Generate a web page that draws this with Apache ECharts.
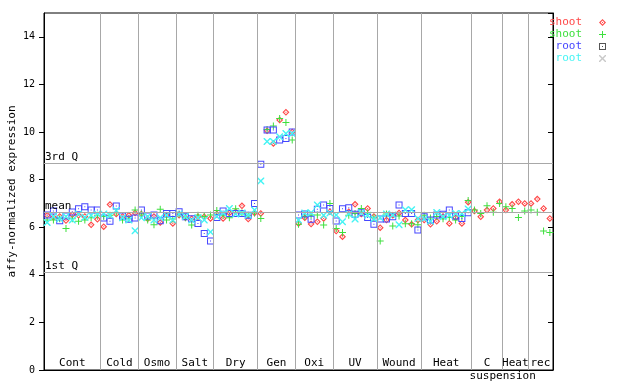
<!DOCTYPE html>
<html><head><meta charset="utf-8">
<script src="https://cdn.jsdelivr.net/npm/echarts@6/dist/echarts.min.js"></script>
<style>html,body{margin:0;padding:0;background:#fff}#c{width:640px;height:384px}</style>
</head><body><div id="c"></div>
<script>
// ---- data ----
const groupNames = ['Cont','Cold','Osmo','Salt','Dry','Gen','Oxi','UV','Wound','Heat','C','Heat','rec'];
const groupSizes = [9,6,6,6,7,6,6,7,7,8,5,4,4];
const subLabel = 'suspension';

const shootRep1 = [
  6.5,6.42,6.45,6.28,6.52,6.5,6.45,6.1,6.33,
  6.02,6.95,6.55,6.45,6.5,6.6,
  6.55,6.35,6.45,6.2,6.5,6.16,
  6.5,6.4,6.35,6.44,6.44,6.37,
  6.55,6.37,6.6,6.65,6.9,6.34,6.6,
  6.58,10.05,9.52,10.5,10.83,10.0,
  6.16,6.4,6.13,6.23,6.37,6.65,
  5.84,5.6,6.65,6.96,6.55,6.79,6.45,
  5.98,6.3,6.5,6.6,6.3,6.12,6.3,
  6.3,6.12,6.25,6.45,6.16,6.4,6.16,7.05,
  6.68,6.44,6.72,6.79,7.07,
  6.72,6.96,7.07,7.0,
  7.0,7.18,6.79,6.37
];
const shootRep2 = [
  6.3,6.3,6.35,5.95,6.35,6.25,6.3,6.4,6.5,
  6.45,6.5,6.62,6.3,6.35,6.72,
  6.55,6.3,6.1,6.75,6.3,6.34,
  6.55,6.4,6.09,6.5,6.45,6.51,
  6.7,6.5,6.4,6.77,6.6,6.5,6.6,
  6.37,10.1,10.25,10.57,10.4,9.66,
  6.12,6.45,6.5,6.51,6.09,7.0,
  5.95,5.78,6.5,6.58,6.79,6.6,6.4,
  5.42,6.55,6.05,6.47,6.14,6.14,6.1,
  6.5,6.39,6.45,6.35,6.41,6.3,6.45,7.12,
  6.72,6.58,6.9,6.63,7.0,
  6.86,6.79,6.41,6.68,
  6.72,6.63,5.84,5.78
];
const rootRep1 = [
  6.51,6.68,6.27,6.47,6.64,6.78,6.86,6.72,6.72,
  6.39,6.25,6.89,6.47,6.33,6.39,
  6.72,6.47,6.51,6.27,6.58,6.58,
  6.65,6.44,6.35,6.16,5.74,5.42,
  6.41,6.68,6.58,6.58,6.58,6.5,7.0,
  8.64,10.08,10.08,9.66,9.73,10.0,
  6.51,6.55,6.33,6.75,6.93,6.79,
  6.26,6.77,6.82,6.54,6.61,6.41,6.12,
  6.34,6.34,6.44,6.93,6.58,6.58,5.88,
  6.44,6.3,6.51,6.54,6.72,6.47,6.37,6.61
];
const rootRep2 = [
  6.2,6.45,6.35,6.45,6.3,6.55,6.42,6.5,6.55,
  6.55,6.5,6.7,6.4,6.3,5.85,
  6.4,6.45,6.3,6.4,6.5,6.3,
  6.55,6.45,6.3,6.4,6.3,5.8,
  6.45,6.6,6.79,6.55,6.6,6.5,6.72,
  7.94,9.6,9.6,9.8,9.94,9.94,
  6.3,6.6,6.61,6.93,6.5,6.6,
  6.51,6.23,6.55,6.34,6.6,6.5,6.35,
  6.4,6.55,6.51,6.1,6.73,6.73,6.37,
  6.35,6.25,6.62,6.44,6.5,6.58,6.58,6.76
];
const refValues = [8.68, 6.62, 4.1];
const refLabels = ['3rd Q', 'mean', '1st Q'];
const yMin = 0, yMax = 15, yStep = 2;
const yTitle = 'affy-normalized expression';

// ---- build ----
const FONT = 'DejaVu Sans Mono';
const total = groupSizes.reduce((a, b) => a + b, 0);
const bounds = [0];
groupSizes.forEach(s => bounds.push(bounds[bounds.length - 1] + s));

const toPts = arr => arr.map((v, i) => [i + 0.5, v]);

const SYM_DIAMOND = 'path://M3.5,0L7,3.5L3.5,7L0,3.5Z M3.5,1.6L1.6,3.5L3.5,5.4L5.4,3.5Z M3,3H4V4H3Z';
const SYM_PLUS = 'path://M3,0H4V3H7V4H4V7H3V4H0V3H3Z';
const SYM_SQUARE = 'path://M0,0H7V7H0Z M1,1V6H6V1Z M3,3H4V4H3Z';
const SYM_X = 'path://M0,0H1L3.5,2.5L6,0H7V1L4.5,3.5L7,6V7H6L3.5,4.5L1,7H0V6L2.5,3.5L0,1Z';

const C_RED = '#ff4848', C_GREEN = '#3ee03e', C_BLUE = '#4646ff', C_CYAN = '#46f4f4';
const GRAY = '#a8a8a8';

const chart = echarts.init(document.getElementById('c'), null, {renderer: 'canvas'});

const vLines = bounds.slice(1, -1).map(b => ({xAxis: b}));
const hLines = refValues.map((v, k) => ({yAxis: v, label: {formatter: refLabels[k]}}));
const areas = groupNames.map((g, k) => [{xAxis: bounds[k], name: g}, {xAxis: bounds[k + 1]}]);

function scatter(name, data, sym, color) {
  return {
    type: 'scatter', name: name, data: toPts(data), symbol: sym, symbolSize: 7,
    itemStyle: {color: color, opacity: 1}, z: 3, silent: true, animation: false
  };
}

chart.setOption({
  animation: false,
  backgroundColor: '#fff',
  textStyle: {fontFamily: FONT},
  grid: {left: 44, right: 87, top: 13, bottom: 14, outerBoundsMode: 'none', containLabel: false,
         show: true, borderColor: '#000', borderWidth: 1, backgroundColor: 'transparent'},
  xAxis: {
    type: 'value', min: 0, max: total,
    axisLine: {show: true, lineStyle: {color: '#000', width: 1}},
    axisTick: {show: false}, axisLabel: {show: false}, splitLine: {show: false}
  },
  yAxis: [{
    type: 'value', min: yMin, max: yMax, interval: yStep,
    name: yTitle, nameLocation: 'middle', nameGap: 26, nameRotate: 90, nameMoveOverlap: false,
    nameTextStyle: {fontFamily: FONT, fontSize: 11, color: '#000'},
    axisLine: {show: true, lineStyle: {color: '#000'}},
    axisTick: {show: true, length: 5, lineStyle: {color: '#000'}},
    axisLabel: {showMaxLabel: false, fontFamily: FONT, fontSize: 10, color: '#000', margin: 9},
    splitLine: {show: false}
  }, {
    type: 'value', min: yMin, max: yMax, interval: yStep, position: 'right',
    axisLine: {show: true, lineStyle: {color: '#000'}},
    axisTick: {show: true, inside: true, length: 5, lineStyle: {color: '#000'}},
    axisLabel: {show: false}, splitLine: {show: false}
  }],
  legend: {
    orient: 'vertical', right: 29, top: 12, align: 'right',
    itemWidth: 7, itemHeight: 7, itemGap: 1,
    textStyle: {fontFamily: FONT, fontSize: 11, padding: [0, 12, 0, 0]},
    formatter: n => n.trim(),
    data: [
      {name: 'shoot', textStyle: {color: C_RED}},
      {name: 'shoot ', textStyle: {color: C_GREEN}},
      {name: 'root', textStyle: {color: C_BLUE}, itemStyle: {color: '#555555'}},
      {name: 'root ', textStyle: {color: C_CYAN}, itemStyle: {color: '#c8c8c8'}}
    ]
  },
  series: [
    {
      type: 'line', data: [], z: 1, silent: true, animation: false,
      markLine: {
        silent: true, symbol: 'none', animation: false,
        lineStyle: {color: GRAY, width: 1, type: 'solid'},
        label: {position: 'insideStartTop', distance: [1, 1], color: '#000', fontFamily: FONT, fontSize: 11},
        data: hLines.concat(vLines.map(v => Object.assign({}, v, {label: {show: false}})))
      },
      markArea: {
        silent: true, animation: false,
        itemStyle: {color: 'rgba(0,0,0,0)'},
        label: {position: 'insideBottom', distance: 1, color: '#000', fontFamily: FONT, fontSize: 11},
        data: areas
      }
    },
    scatter('shoot', shootRep1, SYM_DIAMOND, C_RED),
    scatter('shoot ', shootRep2, SYM_PLUS, C_GREEN),
    scatter('root', rootRep1, SYM_SQUARE, C_BLUE),
    scatter('root ', rootRep2, SYM_X, C_CYAN)
  ]
});

// sub-label under the cell suspension groups
const cIdx = groupNames.indexOf('C');
const px = chart.convertToPixel({xAxisIndex: 0}, bounds[cIdx + 1]);
const py = chart.convertToPixel({yAxisIndex: 0}, yMin);
chart.setOption({
  graphic: [{
    type: 'text', x: px, y: py + 6, silent: true,
    style: {text: subLabel, fill: '#000', font: '11px "' + FONT + '"', align: 'center', verticalAlign: 'middle'}
  }]
});
</script></body></html>
